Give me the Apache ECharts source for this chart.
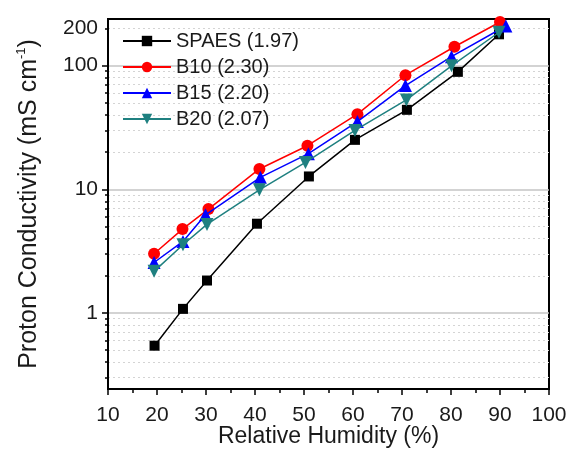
<!DOCTYPE html>
<html><head><meta charset="utf-8">
<script src="https://cdn.jsdelivr.net/npm/echarts@6/dist/echarts.min.js"></script>
<style>html,body{margin:0;padding:0;background:#fff}#c{width:571px;height:449px}</style>
</head><body><div id="c"></div>
<script>
const seriesNames = ['SPAES (1.97)', 'B10 (2.30)', 'B15 (2.20)', 'B20 (2.07)'];
const spaesX = [19.5, 25.3, 30.2, 40.4, 51.0, 60.4, 71.0, 81.4, 89.8];
const spaesY = [0.544, 1.08, 1.83, 5.27, 12.7, 25.1, 43.9, 89, 179];
const b10X = [19.4, 25.2, 30.5, 40.9, 50.7, 60.9, 70.7, 80.7, 90.0];
const b10Y = [3.01, 4.77, 6.92, 14.6, 22.5, 40.5, 83.6, 142, 225];
const b15X = [19.4, 25.3, 29.9, 41.1, 50.9, 60.9, 70.7, 80.1, 91.2];
const b15Y = [2.56, 3.79, 6.22, 12.5, 19.4, 35.3, 68.9, 118, 209];
const b20X = [19.4, 25.3, 30.2, 40.9, 50.3, 60.4, 70.9, 80.1, 89.8];
const b20Y = [2.17, 3.56, 5.2, 9.9, 16.5, 29.9, 52.8, 99.5, 186];
const yLabelValues = [1, 10, 100, 200];
const yMajorTicks = [1, 10, 100];
const yMinorTicks = [0.3, 0.4, 0.5, 0.6, 0.7, 0.8, 0.9, 2, 3, 4, 5, 6, 7, 8, 9, 20, 30, 40, 50, 60, 70, 80, 90, 200];

const FONT = 'Liberation Sans, Arial, sans-serif';
const pairs = (xs, ys) => xs.map((x, i) => [x, ys[i]]);
const xsList = [spaesX, b10X, b15X, b20X];
const ysList = [spaesY, b10Y, b15Y, b20Y];
const colors = ['#000000', '#ff0000', '#0000ff', '#1f8080'];
const symbols = ['rect', 'circle', 'triangle', 'triangle'];
const sizes = [10, 12, 13, 13];
const rotates = [0, 0, 0, 180];

const chart = echarts.init(document.getElementById('c'), null, {renderer: 'canvas'});
chart.setOption({
  animation: false,
  textStyle: {fontFamily: FONT},
  grid: {left: 108, right: 22, top: 19, bottom: 60, show: true, borderColor: '#000', borderWidth: 2, backgroundColor: 'transparent', outerBoundsMode: 'none', containLabel: false},
  legend: {
    orient: 'vertical', left: 117, top: 26, itemWidth: 48, itemHeight: 13, itemGap: 6,
    textStyle: {fontSize: 20, color: '#1a1a1a', fontFamily: FONT},
    data: seriesNames
  },
  xAxis: {
    type: 'value', min: 10, max: 100, interval: 10,
    axisLine: {lineStyle: {color: '#000', width: 2}},
    axisTick: {length: 6, lineStyle: {color: '#000', width: 1.5}},
    minorTick: {show: true, splitNumber: 2, length: 4, lineStyle: {color: '#000', width: 1.5}},
    splitLine: {show: false},
    axisLabel: {fontSize: 21, color: '#1a1a1a', margin: 16, fontFamily: FONT},
    name: 'Relative Humidity (%)', nameLocation: 'middle', nameGap: 36, nameMoveOverlap: false,
    nameTextStyle: {fontSize: 23, color: '#1a1a1a', fontFamily: FONT}
  },
  yAxis: [{
    type: 'log', min: 0.243, max: 238,
    axisLine: {show: true, lineStyle: {color: '#000', width: 2}},
    axisTick: {show: true, length: 6, customValues: yMajorTicks, lineStyle: {color: '#000', width: 1.5}},
    axisLabel: {fontSize: 21, color: '#1a1a1a', margin: 10, customValues: yLabelValues, fontFamily: FONT},
    splitLine: {show: true, lineStyle: {color: '#c4c4c4', width: 1.5}},
    name: '{a|Proton Conductivity (mS cm}{s|-1}{a|)}', nameLocation: 'middle', nameGap: 65, nameMoveOverlap: false,
    nameTextStyle: {
      fontFamily: FONT, color: '#1a1a1a',
      rich: {
        a: {fontSize: 25, color: '#1a1a1a', fontFamily: FONT, lineHeight: 28},
        s: {fontSize: 13, color: '#1a1a1a', fontFamily: FONT, verticalAlign: 'top', lineHeight: 28, padding: [0, 0, 13, 0]}
      }
    }
  }, {
    type: 'log', min: 0.243, max: 238, position: 'left',
    axisLine: {show: false},
    axisTick: {show: true, length: 3, customValues: yMinorTicks, lineStyle: {color: '#000', width: 1.5}},
    axisLabel: {show: false},
    splitLine: {show: true, lineStyle: {color: '#d4d4d4', width: 1, type: [2, 3]}}
  }],
  series: seriesNames.map((name, i) => ({
    name, type: 'line', yAxisIndex: 0,
    data: pairs(xsList[i], ysList[i]),
    symbol: symbols[i], symbolSize: sizes[i], symbolRotate: rotates[i],
    lineStyle: {color: colors[i], width: 1.5},
    itemStyle: {color: colors[i]},
    z: 3 + i
  }))
});
</script></body></html>
